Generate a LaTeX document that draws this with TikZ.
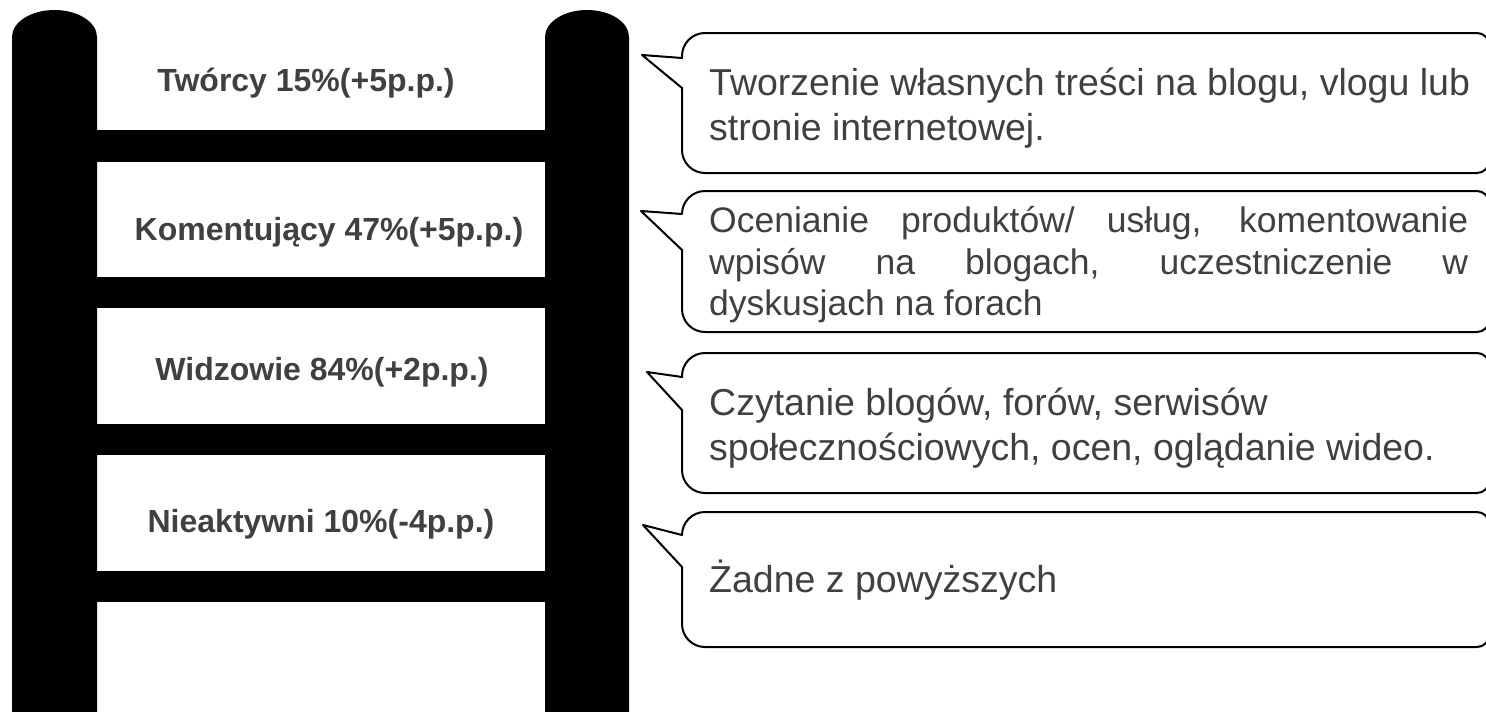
\documentclass[tikz,border=0pt]{standalone}
\usepackage{fontspec}
\setmainfont{Liberation Sans}
\definecolor{txtgray}{HTML}{404040}
\newcommand\mycallout[6]{% #1=top #2=bottom #3=tip x #4=tip y #5=upper attach #6=lower attach
  \draw[bubble] (682,#5) -- (#3,#4) -- (682,#6) -- (682,{#2-23})
    .. controls (682,{#2-10.3}) and (692.3,#2) .. (705,#2) -- (1477,#2)
    .. controls (1483.6,#2) and (1489,{#2-5.4}) .. (1489,{#2-12}) -- (1489,{#1+12})
    .. controls (1489,{#1+5.4}) and (1483.6,#1) .. (1477,#1) -- (705,#1)
    .. controls (692.3,#1) and (682,{#1+10.3}) .. (682,{#1+23}) -- cycle;}
\begin{document}
\begin{tikzpicture}[x=1pt,y=-1pt,
  railfill/.style={fill=black,draw=none},
  lbl/.style={font=\fontsize{32}{38}\selectfont\bfseries, text=txtgray, inner sep=0pt, anchor=base},
  desc/.style={font=\fontsize{37.5}{45}\selectfont, text=txtgray, inner sep=0pt, anchor=base west},
  descsmall/.style={desc, font=\fontsize{35.5}{42}\selectfont},
  bubble/.style={draw=black, line width=2pt, fill=white, line join=round}]
\useasboundingbox (0,0) rectangle (1486,712);
% ladder rails
\fill[railfill] (12,712) -- (12,37) .. controls (12,22.1) and (31,10) .. (54.5,10)
  .. controls (78,10) and (97,22.1) .. (97,37) -- (97,712) -- cycle;
\fill[railfill] (545,712) -- (545,37) .. controls (545,22.1) and (563.8,10) .. (587,10)
  .. controls (610.2,10) and (629,22.1) .. (629,37) -- (629,712) -- cycle;
% rungs
\fill[railfill] (96,130) rectangle (546,162);
\fill[railfill] (96,277) rectangle (546,308);
\fill[railfill] (96,424) rectangle (546,455);
\fill[railfill] (96,571) rectangle (546,602);
% labels
\node[lbl] (l1) at (306,91) {Twórcy 15\%(+5p.p.)};
\node[lbl] (l2) at (329,240) {Komentujący 47\%(+5p.p.)};
\node[lbl] (l3) at (322,380) {Widzowie 84\%(+2p.p.)};
\node[lbl] (l4) at (321,532) {Nieaktywni 10\%(-4p.p.)};
% callouts
\mycallout{33}{173}{642}{55}{58}{88}
\mycallout{191}{332}{641}{211}{214}{250}
\mycallout{353}{493}{647}{372}{377}{410}
\mycallout{512}{647}{643}{525}{535}{567}
% callout texts
\node[desc] (d1a) at (709,95) {Tworzenie własnych treści na blogu, vlogu lub};
\node[desc] (d1b) at (709,140) {stronie internetowej.};
\node[descsmall] (d2a) at (709,232) {\makebox[759pt][s]{Ocenianie produktów/ usług, komentowanie}};
\node[descsmall] (d2b) at (709,274) {\makebox[759pt][s]{wpisów na blogach, uczestniczenie w}};
\node[descsmall] (d2c) at (709,315) {dyskusjach na forach};
\node[desc] (d3a) at (709,415) {Czytanie blogów, forów, serwisów};
\node[desc] (d3b) at (709,460) {społecznościowych, ocen, oglądanie wideo.};
\node[desc] (d4) at (709,592) {Żadne z powyższych};
\end{tikzpicture}
\end{document}
